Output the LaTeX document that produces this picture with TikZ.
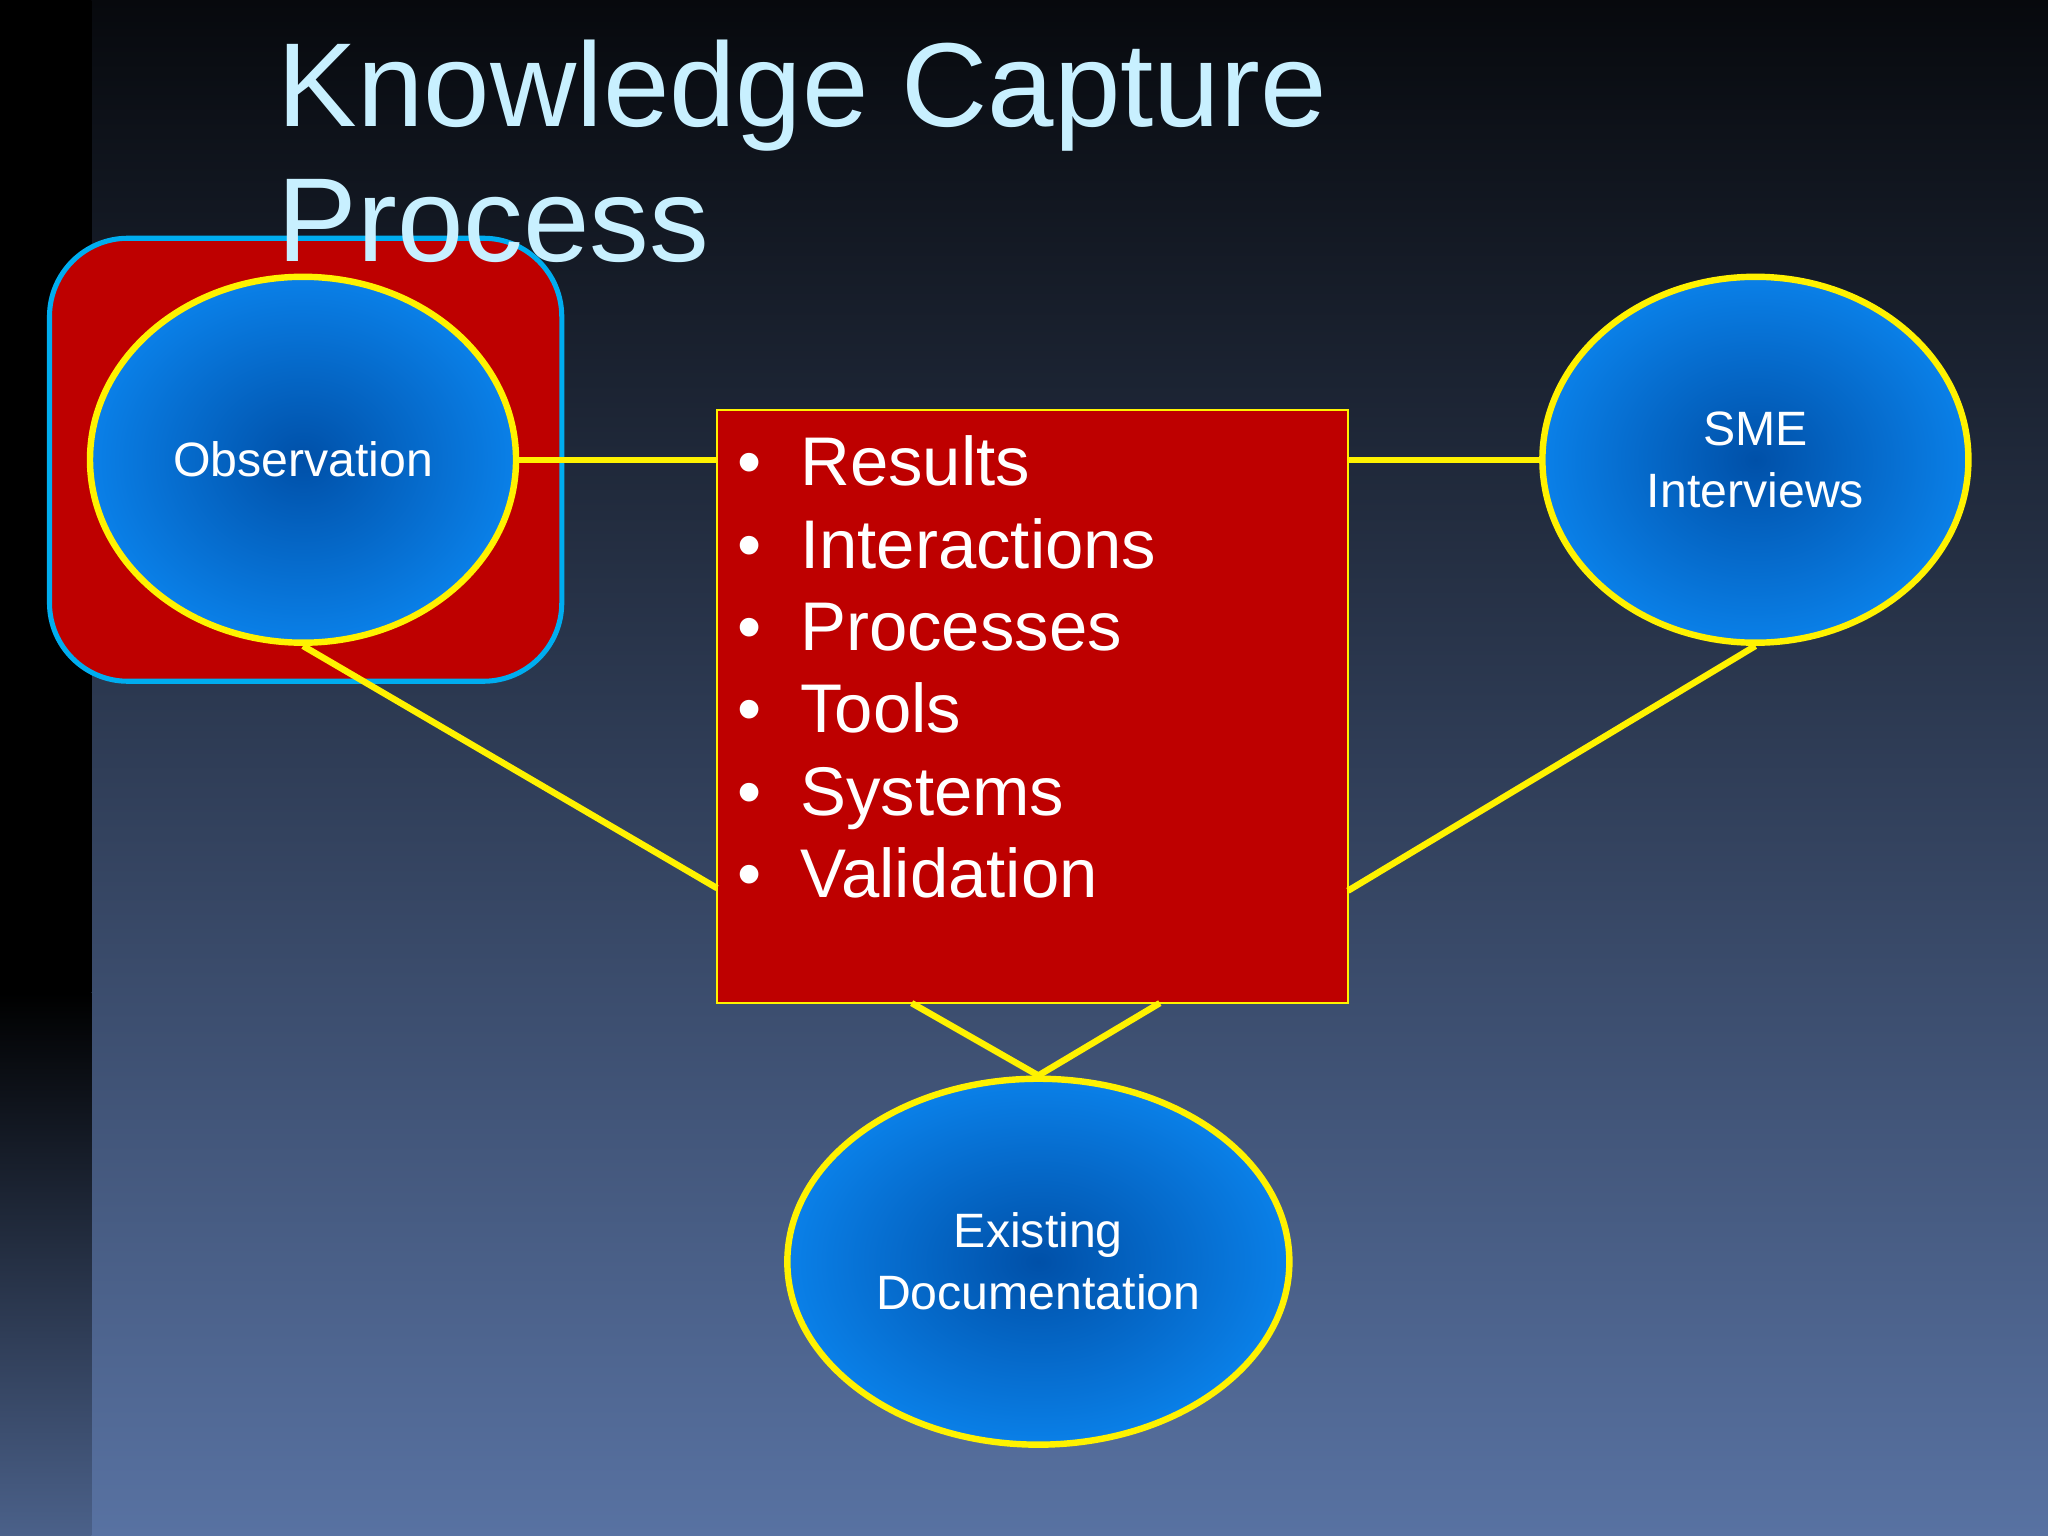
\documentclass[tikz,border=0pt]{standalone}
\usepackage{fontspec}
\setmainfont{Liberation Sans}
\usetikzlibrary{shapes.geometric}
\definecolor{bgtop}{HTML}{07090D}
\definecolor{bgbot}{HTML}{5872A2}
\definecolor{bluein}{HTML}{0050A8}
\definecolor{blueout}{HTML}{0A80E8}
\definecolor{boxred}{HTML}{BE0000}
\definecolor{titlec}{HTML}{C8F0FF}
\tikzset{
  bubble/.style={ellipse,draw=yellow,line width=4pt*0.35,inner color=bluein,outer color=blueout,
    minimum width=3.26cm,minimum height=2.8cm,text=white,align=center,font=\fontsize{10.5}{13.5}\selectfont},
  link/.style={yellow,line width=1.4pt},
  bl/.style={anchor=base west,text=white,font=\fontsize{15}{18}\selectfont,inner sep=0pt}
}
\begin{document}
\begin{tikzpicture}[x=0.01cm,y=-0.01cm]
\useasboundingbox (0,0) rectangle (1568,1176);
\shade[top color=bgtop,bottom color=bgbot] (0,0) rectangle (1568,1176);
\shade[top color=black,bottom color=black] (0,0) rectangle (70,760);
\shade[top color=black,bottom color=bgbot!85!black] (0,760) rectangle (70,1176);
\node[draw=cyan,line width=1.1pt,fill=boxred,rounded corners=0.6cm,minimum width=3.92cm,minimum height=3.39cm] (frame) at (234,352) {};
\node[draw=yellow,line width=0.5pt,fill=boxred,minimum width=4.83cm,minimum height=4.54cm] (box) at (790.5,541) {};
\node[bubble] (obs) at (232,352) {Observation};
\node[bubble] (sme) at (1344,352) {SME\\Interviews};
\node[bubble] (doc) at (795,966) {Existing\\Documentation};
\coordinate (bl1) at (549,680);
\coordinate (br1) at (1032,682);
\coordinate (bb1) at (698,768);
\coordinate (bb2) at (888,768);
\draw[link] (obs.east) -- (obs.east -| box.west);
\draw[link] (sme.west) -- (sme.west -| box.east);
\draw[link] (obs.south) -- (bl1);
\draw[link] (sme.south) -- (br1);
\draw[link] (bb1) -- (doc.north) -- (bb2);
\foreach \t [count=\i] in {Results,Interactions,Processes,Tools,Systems,Validation}{
  \node[bl] (b\i) at (564,{358+63*(\i-1)+14}) {•};
  \node[bl] (t\i) at (612,{358+63*(\i-1)+14}) {\t};
}
\node[anchor=base west,text=titlec,inner sep=0pt,font=\fontsize{26}{30}\selectfont] (title1) at (212,97) {Knowledge Capture};
\node[anchor=base west,text=titlec,inner sep=0pt,font=\fontsize{26}{30}\selectfont] (title2) at (212,200) {Process};
\end{tikzpicture}
\end{document}
